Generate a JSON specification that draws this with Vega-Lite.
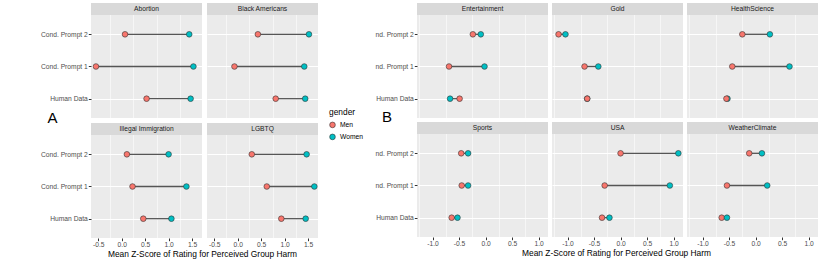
{
  "$schema": "https://vega.github.io/schema/vega-lite/v6.json",
  "padding": {"left": 40, "top": 3, "right": 6, "bottom": 0},
  "background": "white",
  "data": {"values": [
      {"topic": "Abortion", "condition": "Cond. Prompt 2", "gender": "Men", "z": 0.07},
      {"topic": "Abortion", "condition": "Cond. Prompt 2", "gender": "Women", "z": 1.44},
      {"topic": "Abortion", "condition": "Cond. Prompt 1", "gender": "Men", "z": -0.55},
      {"topic": "Abortion", "condition": "Cond. Prompt 1", "gender": "Women", "z": 1.53},
      {"topic": "Abortion", "condition": "Human Data", "gender": "Men", "z": 0.53},
      {"topic": "Abortion", "condition": "Human Data", "gender": "Women", "z": 1.47},
      {"topic": "Black Americans", "condition": "Cond. Prompt 2", "gender": "Men", "z": 0.43},
      {"topic": "Black Americans", "condition": "Cond. Prompt 2", "gender": "Women", "z": 1.52},
      {"topic": "Black Americans", "condition": "Cond. Prompt 1", "gender": "Men", "z": -0.07},
      {"topic": "Black Americans", "condition": "Cond. Prompt 1", "gender": "Women", "z": 1.42},
      {"topic": "Black Americans", "condition": "Human Data", "gender": "Men", "z": 0.81},
      {"topic": "Black Americans", "condition": "Human Data", "gender": "Women", "z": 1.44},
      {"topic": "Illegal Immigration", "condition": "Cond. Prompt 2", "gender": "Men", "z": 0.11},
      {"topic": "Illegal Immigration", "condition": "Cond. Prompt 2", "gender": "Women", "z": 1.0},
      {"topic": "Illegal Immigration", "condition": "Cond. Prompt 1", "gender": "Men", "z": 0.23},
      {"topic": "Illegal Immigration", "condition": "Cond. Prompt 1", "gender": "Women", "z": 1.38},
      {"topic": "Illegal Immigration", "condition": "Human Data", "gender": "Men", "z": 0.46},
      {"topic": "Illegal Immigration", "condition": "Human Data", "gender": "Women", "z": 1.06},
      {"topic": "LGBTQ", "condition": "Cond. Prompt 2", "gender": "Men", "z": 0.30},
      {"topic": "LGBTQ", "condition": "Cond. Prompt 2", "gender": "Women", "z": 1.47},
      {"topic": "LGBTQ", "condition": "Cond. Prompt 1", "gender": "Men", "z": 0.62},
      {"topic": "LGBTQ", "condition": "Cond. Prompt 1", "gender": "Women", "z": 1.635},
      {"topic": "LGBTQ", "condition": "Human Data", "gender": "Men", "z": 0.93},
      {"topic": "LGBTQ", "condition": "Human Data", "gender": "Women", "z": 1.45},
      {"topic": "Entertainment", "condition": "Cond. Prompt 2", "gender": "Men", "z": -0.24},
      {"topic": "Entertainment", "condition": "Cond. Prompt 2", "gender": "Women", "z": -0.09},
      {"topic": "Entertainment", "condition": "Cond. Prompt 1", "gender": "Men", "z": -0.69},
      {"topic": "Entertainment", "condition": "Cond. Prompt 1", "gender": "Women", "z": -0.02},
      {"topic": "Entertainment", "condition": "Human Data", "gender": "Men", "z": -0.49},
      {"topic": "Entertainment", "condition": "Human Data", "gender": "Women", "z": -0.67},
      {"topic": "Gold", "condition": "Cond. Prompt 2", "gender": "Men", "z": -1.17},
      {"topic": "Gold", "condition": "Cond. Prompt 2", "gender": "Women", "z": -1.04},
      {"topic": "Gold", "condition": "Cond. Prompt 1", "gender": "Men", "z": -0.68},
      {"topic": "Gold", "condition": "Cond. Prompt 1", "gender": "Women", "z": -0.42},
      {"topic": "Gold", "condition": "Human Data", "gender": "Women", "z": -0.63},
      {"topic": "Gold", "condition": "Human Data", "gender": "Men", "z": -0.63},
      {"topic": "HealthScience", "condition": "Cond. Prompt 2", "gender": "Men", "z": -0.25},
      {"topic": "HealthScience", "condition": "Cond. Prompt 2", "gender": "Women", "z": 0.27},
      {"topic": "HealthScience", "condition": "Cond. Prompt 1", "gender": "Men", "z": -0.44},
      {"topic": "HealthScience", "condition": "Cond. Prompt 1", "gender": "Women", "z": 0.64},
      {"topic": "HealthScience", "condition": "Human Data", "gender": "Women", "z": -0.53},
      {"topic": "HealthScience", "condition": "Human Data", "gender": "Men", "z": -0.55},
      {"topic": "Sports", "condition": "Cond. Prompt 2", "gender": "Men", "z": -0.46},
      {"topic": "Sports", "condition": "Cond. Prompt 2", "gender": "Women", "z": -0.33},
      {"topic": "Sports", "condition": "Cond. Prompt 1", "gender": "Men", "z": -0.45},
      {"topic": "Sports", "condition": "Cond. Prompt 1", "gender": "Women", "z": -0.33},
      {"topic": "Sports", "condition": "Human Data", "gender": "Men", "z": -0.64},
      {"topic": "Sports", "condition": "Human Data", "gender": "Women", "z": -0.53},
      {"topic": "USA", "condition": "Cond. Prompt 2", "gender": "Men", "z": 0.0},
      {"topic": "USA", "condition": "Cond. Prompt 2", "gender": "Women", "z": 1.09},
      {"topic": "USA", "condition": "Cond. Prompt 1", "gender": "Men", "z": -0.30},
      {"topic": "USA", "condition": "Cond. Prompt 1", "gender": "Women", "z": 0.93},
      {"topic": "USA", "condition": "Human Data", "gender": "Men", "z": -0.35},
      {"topic": "USA", "condition": "Human Data", "gender": "Women", "z": -0.21},
      {"topic": "WeatherClimate", "condition": "Cond. Prompt 2", "gender": "Men", "z": -0.12},
      {"topic": "WeatherClimate", "condition": "Cond. Prompt 2", "gender": "Women", "z": 0.12},
      {"topic": "WeatherClimate", "condition": "Cond. Prompt 1", "gender": "Men", "z": -0.54},
      {"topic": "WeatherClimate", "condition": "Cond. Prompt 1", "gender": "Women", "z": 0.22},
      {"topic": "WeatherClimate", "condition": "Human Data", "gender": "Men", "z": -0.64},
      {"topic": "WeatherClimate", "condition": "Human Data", "gender": "Women", "z": -0.54}
  ]},
  "config": {
    "font": "Liberation Sans",
    "view": {"fill": "#EBEBEB", "stroke": null},
    "axis": {
      "domain": false, "tickColor": "#333333", "tickSize": 2.7, "tickWidth": 1,
      "labelColor": "#4D4D4D", "labelFontSize": 6.7, "labelFont": "Liberation Sans",
      "labelOverlap": false, "labelFlush": false,
      "gridColor": "white", "gridWidth": 1.1,
      "titleFontWeight": "normal", "titleFontSize": 8.4, "titleColor": "black"
    },
    "legend": {
      "titleFontWeight": "normal", "titleFontSize": 8.4, "titleColor": "black",
      "labelFontSize": 6.7, "labelColor": "black"
    },
    "title": {"fontWeight": "normal", "color": "black"}
  },
  "resolve": {"legend": {"color": "independent"}},
  "spacing": 12,
  "hconcat": [
    {
      "title": {"text": "A", "orient": "left", "angle": 0, "fontSize": 15, "offset": -22, "anchor": "middle", "dy": -20},
      "vconcat": [{
        "title": {"text": "Mean Z-Score of Rating for Perceived Group Harm", "orient": "bottom", "anchor": "middle", "fontSize": 8.4, "offset": 2, "dx": 23},
        "columns": 2,
        "spacing": 5,
        "concat": [
          {"width": 111, "height": 115, "transform": [{"filter": "datum.topic == 'Abortion'"}], "resolve": {"scale": {"x": "independent", "y": "independent"}},
           "layer": [
            {"mark": {"type": "line", "color": "#555555", "strokeWidth": 1.3},
             "encoding": {"x": {"field": "z", "type": "quantitative", "scale": {"domain": [-0.656, 1.713], "nice": false, "zero": false},
                "axis": {"orient": "bottom", "values": [-0.25, 0.25, 0.75, 1.25], "labels": false, "ticks": false, "title": null, "gridWidth": 0.55, "labelPadding": 0, "minExtent": 0, "maxExtent": 0}},
               "y": {"field": "condition", "type": "nominal", "sort": ["Cond. Prompt 2", "Cond. Prompt 1", "Human Data"], "scale": {"type": "point", "padding": 0.7864, "align": 0.6185}, "axis": null},
               "detail": {"field": "condition"}}},
            {"mark": {"type": "circle", "size": 32, "opacity": 1, "stroke": "#333333", "strokeWidth": 0.6},
             "encoding": {"x": {"field": "z", "type": "quantitative", "scale": {"domain": [-0.656, 1.713], "nice": false, "zero": false},
                "axis": {"orient": "bottom", "values": [-0.5, 0, 0.5, 1, 1.5], "labels": false, "ticks": false, "title": null, "labelPadding": 0, "minExtent": 0, "maxExtent": 0}},
               "y": {"field": "condition", "type": "nominal", "title": null, "sort": ["Cond. Prompt 2", "Cond. Prompt 1", "Human Data"], "scale": {"type": "point", "padding": 0.7864, "align": 0.6185}, "axis": {"grid": true, "labelPadding": 1}},
               "color": {"field": "gender", "type": "nominal", "scale": {"domain": ["Men", "Women"], "range": ["#F8766D", "#00BFC4"]},
                 "legend": {"title": "gender", "orient": "none", "legendX": 238, "legendY": 105, "symbolType": "circle", "symbolSize": 32, "symbolStrokeColor": "#333333", "symbolStrokeWidth": 0.6, "rowPadding": 3}}}},
            {"transform": [{"filter": "datum.gender == 'Men' && datum.condition == 'Human Data'"}],
             "mark": {"type": "rect", "color": "#D9D9D9"},
             "encoding": {"y": {"datum": 0.8957, "type": "quantitative", "scale": {"domain": [0, 1], "nice": false, "zero": false}, "axis": null}, "y2": {"datum": 1}}},
            {"transform": [{"filter": "datum.gender == 'Men' && datum.condition == 'Human Data'"}],
             "mark": {"type": "text", "fontSize": 6.7, "color": "#1A1A1A", "baseline": "middle", "align": "center"},
             "encoding": {"y": {"datum": 0.948, "type": "quantitative", "scale": {"domain": [0, 1], "nice": false, "zero": false}, "axis": null}, "text": {"field": "topic"}}}
           ]},
          {"width": 111, "height": 115, "transform": [{"filter": "datum.topic == 'Black Americans'"}], "resolve": {"scale": {"x": "independent", "y": "independent"}},
           "layer": [
            {"mark": {"type": "line", "color": "#555555", "strokeWidth": 1.3},
             "encoding": {"x": {"field": "z", "type": "quantitative", "scale": {"domain": [-0.656, 1.713], "nice": false, "zero": false},
                "axis": {"orient": "bottom", "values": [-0.25, 0.25, 0.75, 1.25], "labels": false, "ticks": false, "title": null, "gridWidth": 0.55, "labelPadding": 0, "minExtent": 0, "maxExtent": 0}},
               "y": {"field": "condition", "type": "nominal", "sort": ["Cond. Prompt 2", "Cond. Prompt 1", "Human Data"], "scale": {"type": "point", "padding": 0.7864, "align": 0.6185}, "axis": null},
               "detail": {"field": "condition"}}},
            {"mark": {"type": "circle", "size": 32, "opacity": 1, "stroke": "#333333", "strokeWidth": 0.6},
             "encoding": {"x": {"field": "z", "type": "quantitative", "scale": {"domain": [-0.656, 1.713], "nice": false, "zero": false},
                "axis": {"orient": "bottom", "values": [-0.5, 0, 0.5, 1, 1.5], "labels": false, "ticks": false, "title": null, "labelPadding": 0, "minExtent": 0, "maxExtent": 0}},
               "y": {"field": "condition", "type": "nominal", "title": null, "sort": ["Cond. Prompt 2", "Cond. Prompt 1", "Human Data"], "scale": {"type": "point", "padding": 0.7864, "align": 0.6185}, "axis": {"grid": true, "labels": false, "ticks": false, "labelPadding": 0, "minExtent": 0, "maxExtent": 0}},
               "color": {"field": "gender", "type": "nominal", "scale": {"domain": ["Men", "Women"], "range": ["#F8766D", "#00BFC4"]},
                 "legend": {"title": "gender", "orient": "none", "legendX": 238, "legendY": 105, "symbolType": "circle", "symbolSize": 32, "symbolStrokeColor": "#333333", "symbolStrokeWidth": 0.6, "rowPadding": 3}}}},
            {"transform": [{"filter": "datum.gender == 'Men' && datum.condition == 'Human Data'"}],
             "mark": {"type": "rect", "color": "#D9D9D9"},
             "encoding": {"y": {"datum": 0.8957, "type": "quantitative", "scale": {"domain": [0, 1], "nice": false, "zero": false}, "axis": null}, "y2": {"datum": 1}}},
            {"transform": [{"filter": "datum.gender == 'Men' && datum.condition == 'Human Data'"}],
             "mark": {"type": "text", "fontSize": 6.7, "color": "#1A1A1A", "baseline": "middle", "align": "center"},
             "encoding": {"y": {"datum": 0.948, "type": "quantitative", "scale": {"domain": [0, 1], "nice": false, "zero": false}, "axis": null}, "text": {"field": "topic"}}}
           ]},
          {"width": 111, "height": 115, "transform": [{"filter": "datum.topic == 'Illegal Immigration'"}], "resolve": {"scale": {"x": "independent", "y": "independent"}},
           "layer": [
            {"mark": {"type": "line", "color": "#555555", "strokeWidth": 1.3},
             "encoding": {"x": {"field": "z", "type": "quantitative", "scale": {"domain": [-0.656, 1.713], "nice": false, "zero": false},
                "axis": {"orient": "bottom", "values": [-0.25, 0.25, 0.75, 1.25], "labels": false, "ticks": false, "title": null, "gridWidth": 0.55, "labelPadding": 0, "minExtent": 0, "maxExtent": 0}},
               "y": {"field": "condition", "type": "nominal", "sort": ["Cond. Prompt 2", "Cond. Prompt 1", "Human Data"], "scale": {"type": "point", "padding": 0.7864, "align": 0.6185}, "axis": null},
               "detail": {"field": "condition"}}},
            {"mark": {"type": "circle", "size": 32, "opacity": 1, "stroke": "#333333", "strokeWidth": 0.6},
             "encoding": {"x": {"field": "z", "type": "quantitative", "scale": {"domain": [-0.656, 1.713], "nice": false, "zero": false},
                "axis": {"orient": "bottom", "values": [-0.5, 0, 0.5, 1, 1.5], "title": null, "labelPadding": 0.5, "labelExpr": "replace(format(datum.value, '.1f'), '\u2212', '-')"}},
               "y": {"field": "condition", "type": "nominal", "title": null, "sort": ["Cond. Prompt 2", "Cond. Prompt 1", "Human Data"], "scale": {"type": "point", "padding": 0.7864, "align": 0.6185}, "axis": {"grid": true, "labelPadding": 1}},
               "color": {"field": "gender", "type": "nominal", "scale": {"domain": ["Men", "Women"], "range": ["#F8766D", "#00BFC4"]},
                 "legend": {"title": "gender", "orient": "none", "legendX": 238, "legendY": 105, "symbolType": "circle", "symbolSize": 32, "symbolStrokeColor": "#333333", "symbolStrokeWidth": 0.6, "rowPadding": 3}}}},
            {"transform": [{"filter": "datum.gender == 'Men' && datum.condition == 'Human Data'"}],
             "mark": {"type": "rect", "color": "#D9D9D9"},
             "encoding": {"y": {"datum": 0.8957, "type": "quantitative", "scale": {"domain": [0, 1], "nice": false, "zero": false}, "axis": null}, "y2": {"datum": 1}}},
            {"transform": [{"filter": "datum.gender == 'Men' && datum.condition == 'Human Data'"}],
             "mark": {"type": "text", "fontSize": 6.7, "color": "#1A1A1A", "baseline": "middle", "align": "center"},
             "encoding": {"y": {"datum": 0.948, "type": "quantitative", "scale": {"domain": [0, 1], "nice": false, "zero": false}, "axis": null}, "text": {"field": "topic"}}}
           ]},
          {"width": 111, "height": 115, "transform": [{"filter": "datum.topic == 'LGBTQ'"}], "resolve": {"scale": {"x": "independent", "y": "independent"}},
           "layer": [
            {"mark": {"type": "line", "color": "#555555", "strokeWidth": 1.3},
             "encoding": {"x": {"field": "z", "type": "quantitative", "scale": {"domain": [-0.656, 1.713], "nice": false, "zero": false},
                "axis": {"orient": "bottom", "values": [-0.25, 0.25, 0.75, 1.25], "labels": false, "ticks": false, "title": null, "gridWidth": 0.55, "labelPadding": 0, "minExtent": 0, "maxExtent": 0}},
               "y": {"field": "condition", "type": "nominal", "sort": ["Cond. Prompt 2", "Cond. Prompt 1", "Human Data"], "scale": {"type": "point", "padding": 0.7864, "align": 0.6185}, "axis": null},
               "detail": {"field": "condition"}}},
            {"mark": {"type": "circle", "size": 32, "opacity": 1, "stroke": "#333333", "strokeWidth": 0.6},
             "encoding": {"x": {"field": "z", "type": "quantitative", "scale": {"domain": [-0.656, 1.713], "nice": false, "zero": false},
                "axis": {"orient": "bottom", "values": [-0.5, 0, 0.5, 1, 1.5], "title": null, "labelPadding": 0.5, "labelExpr": "replace(format(datum.value, '.1f'), '\u2212', '-')"}},
               "y": {"field": "condition", "type": "nominal", "title": null, "sort": ["Cond. Prompt 2", "Cond. Prompt 1", "Human Data"], "scale": {"type": "point", "padding": 0.7864, "align": 0.6185}, "axis": {"grid": true, "labels": false, "ticks": false, "labelPadding": 0, "minExtent": 0, "maxExtent": 0}},
               "color": {"field": "gender", "type": "nominal", "scale": {"domain": ["Men", "Women"], "range": ["#F8766D", "#00BFC4"]},
                 "legend": {"title": "gender", "orient": "none", "legendX": 238, "legendY": 105, "symbolType": "circle", "symbolSize": 32, "symbolStrokeColor": "#333333", "symbolStrokeWidth": 0.6, "rowPadding": 3}}}},
            {"transform": [{"filter": "datum.gender == 'Men' && datum.condition == 'Human Data'"}],
             "mark": {"type": "rect", "color": "#D9D9D9"},
             "encoding": {"y": {"datum": 0.8957, "type": "quantitative", "scale": {"domain": [0, 1], "nice": false, "zero": false}, "axis": null}, "y2": {"datum": 1}}},
            {"transform": [{"filter": "datum.gender == 'Men' && datum.condition == 'Human Data'"}],
             "mark": {"type": "text", "fontSize": 6.7, "color": "#1A1A1A", "baseline": "middle", "align": "center"},
             "encoding": {"y": {"datum": 0.948, "type": "quantitative", "scale": {"domain": [0, 1], "nice": false, "zero": false}, "axis": null}, "text": {"field": "topic"}}}
           ]}
        ]
      }]
    },
    {
      "title": {"text": "B", "orient": "left", "angle": 0, "fontSize": 15, "offset": -22, "anchor": "middle", "dy": -20},
      "vconcat": [{
        "title": {"text": "Mean Z-Score of Rating for Perceived Group Harm", "orient": "bottom", "anchor": "middle", "fontSize": 8.4, "offset": 2, "dx": 20},
        "columns": 3,
        "spacing": 4,
        "concat": [
          {"width": 131, "height": 115, "transform": [{"filter": "datum.topic == 'Entertainment'"}], "resolve": {"scale": {"x": "independent", "y": "independent"}},
           "layer": [
            {"mark": {"type": "line", "color": "#555555", "strokeWidth": 1.3},
             "encoding": {"x": {"field": "z", "type": "quantitative", "scale": {"domain": [-1.294, 1.178], "nice": false, "zero": false},
                "axis": {"orient": "bottom", "values": [-1.25, -0.75, -0.25, 0.25, 0.75], "labels": false, "ticks": false, "title": null, "gridWidth": 0.55, "labelPadding": 0, "minExtent": 0, "maxExtent": 0}},
               "y": {"field": "condition", "type": "nominal", "sort": ["Cond. Prompt 2", "Cond. Prompt 1", "Human Data"], "scale": {"type": "point", "padding": 0.7864, "align": 0.6185}, "axis": null},
               "detail": {"field": "condition"}}},
            {"mark": {"type": "circle", "size": 32, "opacity": 1, "stroke": "#333333", "strokeWidth": 0.6},
             "encoding": {"x": {"field": "z", "type": "quantitative", "scale": {"domain": [-1.294, 1.178], "nice": false, "zero": false},
                "axis": {"orient": "bottom", "values": [-1, -0.5, 0, 0.5, 1], "labels": false, "ticks": false, "title": null, "labelPadding": 0, "minExtent": 0, "maxExtent": 0}},
               "y": {"field": "condition", "type": "nominal", "title": null, "sort": ["Cond. Prompt 2", "Cond. Prompt 1", "Human Data"], "scale": {"type": "point", "padding": 0.7864, "align": 0.6185}, "axis": {"grid": true, "labelPadding": 1, "labelExpr": "replace(datum.label, 'Cond. ', 'nd. ')"}},
               "color": {"field": "gender", "type": "nominal", "scale": {"domain": ["Men", "Women"], "range": ["#F8766D", "#00BFC4"]}, "legend": null}}},
            {"transform": [{"filter": "datum.gender == 'Men' && datum.condition == 'Human Data'"}],
             "mark": {"type": "rect", "color": "#D9D9D9"},
             "encoding": {"y": {"datum": 0.8957, "type": "quantitative", "scale": {"domain": [0, 1], "nice": false, "zero": false}, "axis": null}, "y2": {"datum": 1}}},
            {"transform": [{"filter": "datum.gender == 'Men' && datum.condition == 'Human Data'"}],
             "mark": {"type": "text", "fontSize": 6.7, "color": "#1A1A1A", "baseline": "middle", "align": "center"},
             "encoding": {"y": {"datum": 0.948, "type": "quantitative", "scale": {"domain": [0, 1], "nice": false, "zero": false}, "axis": null}, "text": {"field": "topic"}}}
           ]},
          {"width": 131, "height": 115, "transform": [{"filter": "datum.topic == 'Gold'"}], "resolve": {"scale": {"x": "independent", "y": "independent"}},
           "layer": [
            {"mark": {"type": "line", "color": "#555555", "strokeWidth": 1.3},
             "encoding": {"x": {"field": "z", "type": "quantitative", "scale": {"domain": [-1.294, 1.178], "nice": false, "zero": false},
                "axis": {"orient": "bottom", "values": [-1.25, -0.75, -0.25, 0.25, 0.75], "labels": false, "ticks": false, "title": null, "gridWidth": 0.55, "labelPadding": 0, "minExtent": 0, "maxExtent": 0}},
               "y": {"field": "condition", "type": "nominal", "sort": ["Cond. Prompt 2", "Cond. Prompt 1", "Human Data"], "scale": {"type": "point", "padding": 0.7864, "align": 0.6185}, "axis": null},
               "detail": {"field": "condition"}}},
            {"mark": {"type": "circle", "size": 32, "opacity": 1, "stroke": "#333333", "strokeWidth": 0.6},
             "encoding": {"x": {"field": "z", "type": "quantitative", "scale": {"domain": [-1.294, 1.178], "nice": false, "zero": false},
                "axis": {"orient": "bottom", "values": [-1, -0.5, 0, 0.5, 1], "labels": false, "ticks": false, "title": null, "labelPadding": 0, "minExtent": 0, "maxExtent": 0}},
               "y": {"field": "condition", "type": "nominal", "title": null, "sort": ["Cond. Prompt 2", "Cond. Prompt 1", "Human Data"], "scale": {"type": "point", "padding": 0.7864, "align": 0.6185}, "axis": {"grid": true, "labels": false, "ticks": false, "labelPadding": 0, "minExtent": 0, "maxExtent": 0}},
               "color": {"field": "gender", "type": "nominal", "scale": {"domain": ["Men", "Women"], "range": ["#F8766D", "#00BFC4"]}, "legend": null}}},
            {"transform": [{"filter": "datum.gender == 'Men' && datum.condition == 'Human Data'"}],
             "mark": {"type": "rect", "color": "#D9D9D9"},
             "encoding": {"y": {"datum": 0.8957, "type": "quantitative", "scale": {"domain": [0, 1], "nice": false, "zero": false}, "axis": null}, "y2": {"datum": 1}}},
            {"transform": [{"filter": "datum.gender == 'Men' && datum.condition == 'Human Data'"}],
             "mark": {"type": "text", "fontSize": 6.7, "color": "#1A1A1A", "baseline": "middle", "align": "center"},
             "encoding": {"y": {"datum": 0.948, "type": "quantitative", "scale": {"domain": [0, 1], "nice": false, "zero": false}, "axis": null}, "text": {"field": "topic"}}}
           ]},
          {"width": 131, "height": 115, "transform": [{"filter": "datum.topic == 'HealthScience'"}], "resolve": {"scale": {"x": "independent", "y": "independent"}},
           "layer": [
            {"mark": {"type": "line", "color": "#555555", "strokeWidth": 1.3},
             "encoding": {"x": {"field": "z", "type": "quantitative", "scale": {"domain": [-1.294, 1.178], "nice": false, "zero": false},
                "axis": {"orient": "bottom", "values": [-1.25, -0.75, -0.25, 0.25, 0.75], "labels": false, "ticks": false, "title": null, "gridWidth": 0.55, "labelPadding": 0, "minExtent": 0, "maxExtent": 0}},
               "y": {"field": "condition", "type": "nominal", "sort": ["Cond. Prompt 2", "Cond. Prompt 1", "Human Data"], "scale": {"type": "point", "padding": 0.7864, "align": 0.6185}, "axis": null},
               "detail": {"field": "condition"}}},
            {"mark": {"type": "circle", "size": 32, "opacity": 1, "stroke": "#333333", "strokeWidth": 0.6},
             "encoding": {"x": {"field": "z", "type": "quantitative", "scale": {"domain": [-1.294, 1.178], "nice": false, "zero": false},
                "axis": {"orient": "bottom", "values": [-1, -0.5, 0, 0.5, 1], "labels": false, "ticks": false, "title": null, "labelPadding": 0, "minExtent": 0, "maxExtent": 0}},
               "y": {"field": "condition", "type": "nominal", "title": null, "sort": ["Cond. Prompt 2", "Cond. Prompt 1", "Human Data"], "scale": {"type": "point", "padding": 0.7864, "align": 0.6185}, "axis": {"grid": true, "labels": false, "ticks": false, "labelPadding": 0, "minExtent": 0, "maxExtent": 0}},
               "color": {"field": "gender", "type": "nominal", "scale": {"domain": ["Men", "Women"], "range": ["#F8766D", "#00BFC4"]}, "legend": null}}},
            {"transform": [{"filter": "datum.gender == 'Men' && datum.condition == 'Human Data'"}],
             "mark": {"type": "rect", "color": "#D9D9D9"},
             "encoding": {"y": {"datum": 0.8957, "type": "quantitative", "scale": {"domain": [0, 1], "nice": false, "zero": false}, "axis": null}, "y2": {"datum": 1}}},
            {"transform": [{"filter": "datum.gender == 'Men' && datum.condition == 'Human Data'"}],
             "mark": {"type": "text", "fontSize": 6.7, "color": "#1A1A1A", "baseline": "middle", "align": "center"},
             "encoding": {"y": {"datum": 0.948, "type": "quantitative", "scale": {"domain": [0, 1], "nice": false, "zero": false}, "axis": null}, "text": {"field": "topic"}}}
           ]},
          {"width": 131, "height": 115, "transform": [{"filter": "datum.topic == 'Sports'"}], "resolve": {"scale": {"x": "independent", "y": "independent"}},
           "layer": [
            {"mark": {"type": "line", "color": "#555555", "strokeWidth": 1.3},
             "encoding": {"x": {"field": "z", "type": "quantitative", "scale": {"domain": [-1.294, 1.178], "nice": false, "zero": false},
                "axis": {"orient": "bottom", "values": [-1.25, -0.75, -0.25, 0.25, 0.75], "labels": false, "ticks": false, "title": null, "gridWidth": 0.55, "labelPadding": 0, "minExtent": 0, "maxExtent": 0}},
               "y": {"field": "condition", "type": "nominal", "sort": ["Cond. Prompt 2", "Cond. Prompt 1", "Human Data"], "scale": {"type": "point", "padding": 0.7864, "align": 0.6185}, "axis": null},
               "detail": {"field": "condition"}}},
            {"mark": {"type": "circle", "size": 32, "opacity": 1, "stroke": "#333333", "strokeWidth": 0.6},
             "encoding": {"x": {"field": "z", "type": "quantitative", "scale": {"domain": [-1.294, 1.178], "nice": false, "zero": false},
                "axis": {"orient": "bottom", "values": [-1, -0.5, 0, 0.5, 1], "title": null, "labelPadding": 0.5, "labelExpr": "replace(format(datum.value, '.1f'), '\u2212', '-')"}},
               "y": {"field": "condition", "type": "nominal", "title": null, "sort": ["Cond. Prompt 2", "Cond. Prompt 1", "Human Data"], "scale": {"type": "point", "padding": 0.7864, "align": 0.6185}, "axis": {"grid": true, "labelPadding": 1, "labelExpr": "replace(datum.label, 'Cond. ', 'nd. ')"}},
               "color": {"field": "gender", "type": "nominal", "scale": {"domain": ["Men", "Women"], "range": ["#F8766D", "#00BFC4"]}, "legend": null}}},
            {"transform": [{"filter": "datum.gender == 'Men' && datum.condition == 'Human Data'"}],
             "mark": {"type": "rect", "color": "#D9D9D9"},
             "encoding": {"y": {"datum": 0.8957, "type": "quantitative", "scale": {"domain": [0, 1], "nice": false, "zero": false}, "axis": null}, "y2": {"datum": 1}}},
            {"transform": [{"filter": "datum.gender == 'Men' && datum.condition == 'Human Data'"}],
             "mark": {"type": "text", "fontSize": 6.7, "color": "#1A1A1A", "baseline": "middle", "align": "center"},
             "encoding": {"y": {"datum": 0.948, "type": "quantitative", "scale": {"domain": [0, 1], "nice": false, "zero": false}, "axis": null}, "text": {"field": "topic"}}}
           ]},
          {"width": 131, "height": 115, "transform": [{"filter": "datum.topic == 'USA'"}], "resolve": {"scale": {"x": "independent", "y": "independent"}},
           "layer": [
            {"mark": {"type": "line", "color": "#555555", "strokeWidth": 1.3},
             "encoding": {"x": {"field": "z", "type": "quantitative", "scale": {"domain": [-1.294, 1.178], "nice": false, "zero": false},
                "axis": {"orient": "bottom", "values": [-1.25, -0.75, -0.25, 0.25, 0.75], "labels": false, "ticks": false, "title": null, "gridWidth": 0.55, "labelPadding": 0, "minExtent": 0, "maxExtent": 0}},
               "y": {"field": "condition", "type": "nominal", "sort": ["Cond. Prompt 2", "Cond. Prompt 1", "Human Data"], "scale": {"type": "point", "padding": 0.7864, "align": 0.6185}, "axis": null},
               "detail": {"field": "condition"}}},
            {"mark": {"type": "circle", "size": 32, "opacity": 1, "stroke": "#333333", "strokeWidth": 0.6},
             "encoding": {"x": {"field": "z", "type": "quantitative", "scale": {"domain": [-1.294, 1.178], "nice": false, "zero": false},
                "axis": {"orient": "bottom", "values": [-1, -0.5, 0, 0.5, 1], "title": null, "labelPadding": 0.5, "labelExpr": "replace(format(datum.value, '.1f'), '\u2212', '-')"}},
               "y": {"field": "condition", "type": "nominal", "title": null, "sort": ["Cond. Prompt 2", "Cond. Prompt 1", "Human Data"], "scale": {"type": "point", "padding": 0.7864, "align": 0.6185}, "axis": {"grid": true, "labels": false, "ticks": false, "labelPadding": 0, "minExtent": 0, "maxExtent": 0}},
               "color": {"field": "gender", "type": "nominal", "scale": {"domain": ["Men", "Women"], "range": ["#F8766D", "#00BFC4"]}, "legend": null}}},
            {"transform": [{"filter": "datum.gender == 'Men' && datum.condition == 'Human Data'"}],
             "mark": {"type": "rect", "color": "#D9D9D9"},
             "encoding": {"y": {"datum": 0.8957, "type": "quantitative", "scale": {"domain": [0, 1], "nice": false, "zero": false}, "axis": null}, "y2": {"datum": 1}}},
            {"transform": [{"filter": "datum.gender == 'Men' && datum.condition == 'Human Data'"}],
             "mark": {"type": "text", "fontSize": 6.7, "color": "#1A1A1A", "baseline": "middle", "align": "center"},
             "encoding": {"y": {"datum": 0.948, "type": "quantitative", "scale": {"domain": [0, 1], "nice": false, "zero": false}, "axis": null}, "text": {"field": "topic"}}}
           ]},
          {"width": 131, "height": 115, "transform": [{"filter": "datum.topic == 'WeatherClimate'"}], "resolve": {"scale": {"x": "independent", "y": "independent"}},
           "layer": [
            {"mark": {"type": "line", "color": "#555555", "strokeWidth": 1.3},
             "encoding": {"x": {"field": "z", "type": "quantitative", "scale": {"domain": [-1.294, 1.178], "nice": false, "zero": false},
                "axis": {"orient": "bottom", "values": [-1.25, -0.75, -0.25, 0.25, 0.75], "labels": false, "ticks": false, "title": null, "gridWidth": 0.55, "labelPadding": 0, "minExtent": 0, "maxExtent": 0}},
               "y": {"field": "condition", "type": "nominal", "sort": ["Cond. Prompt 2", "Cond. Prompt 1", "Human Data"], "scale": {"type": "point", "padding": 0.7864, "align": 0.6185}, "axis": null},
               "detail": {"field": "condition"}}},
            {"mark": {"type": "circle", "size": 32, "opacity": 1, "stroke": "#333333", "strokeWidth": 0.6},
             "encoding": {"x": {"field": "z", "type": "quantitative", "scale": {"domain": [-1.294, 1.178], "nice": false, "zero": false},
                "axis": {"orient": "bottom", "values": [-1, -0.5, 0, 0.5, 1], "title": null, "labelPadding": 0.5, "labelExpr": "replace(format(datum.value, '.1f'), '\u2212', '-')"}},
               "y": {"field": "condition", "type": "nominal", "title": null, "sort": ["Cond. Prompt 2", "Cond. Prompt 1", "Human Data"], "scale": {"type": "point", "padding": 0.7864, "align": 0.6185}, "axis": {"grid": true, "labels": false, "ticks": false, "labelPadding": 0, "minExtent": 0, "maxExtent": 0}},
               "color": {"field": "gender", "type": "nominal", "scale": {"domain": ["Men", "Women"], "range": ["#F8766D", "#00BFC4"]}, "legend": null}}},
            {"transform": [{"filter": "datum.gender == 'Men' && datum.condition == 'Human Data'"}],
             "mark": {"type": "rect", "color": "#D9D9D9"},
             "encoding": {"y": {"datum": 0.8957, "type": "quantitative", "scale": {"domain": [0, 1], "nice": false, "zero": false}, "axis": null}, "y2": {"datum": 1}}},
            {"transform": [{"filter": "datum.gender == 'Men' && datum.condition == 'Human Data'"}],
             "mark": {"type": "text", "fontSize": 6.7, "color": "#1A1A1A", "baseline": "middle", "align": "center"},
             "encoding": {"y": {"datum": 0.948, "type": "quantitative", "scale": {"domain": [0, 1], "nice": false, "zero": false}, "axis": null}, "text": {"field": "topic"}}}
           ]}
        ]
      }]
    }
  ]
}
